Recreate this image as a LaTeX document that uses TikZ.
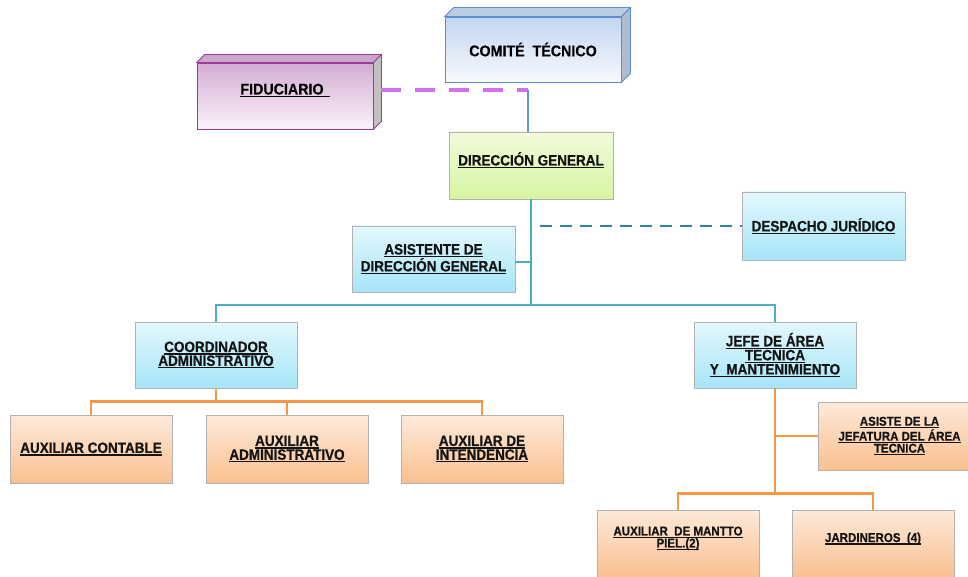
\documentclass[tikz,border=0pt]{standalone}
\usepackage{fontspec}
\setmainfont{Liberation Sans}
\newfontfamily\boxfont{Liberation Sans}[UprightFont={* Bold}, FakeStretch=0.9, FakeBold=0.6]
\newfontfamily\headfont{Liberation Sans}[UprightFont={* Bold}, FakeStretch=0.92, FakeBold=0.4]
\newcommand\myul[1]{\setbox0\hbox{#1}\rlap{\rule[-2.6pt]{\wd0}{1.2pt}}\box0}
\definecolor{cyanTop}{HTML}{E3F8FD}
\definecolor{cyanBot}{HTML}{A6E5F8}
\definecolor{orgTop}{HTML}{FDE9DA}
\definecolor{orgBot}{HTML}{FAC08F}
\definecolor{grnTop}{HTML}{F2FBDD}
\definecolor{grnBot}{HTML}{D5F5A0}
\definecolor{comTop}{HTML}{C2D6F0}
\definecolor{comBot}{HTML}{F7F9FD}
\definecolor{comLine}{HTML}{5B8BD2}
\definecolor{fidTop}{HTML}{D3ACD3}
\definecolor{fidBot}{HTML}{FAF3FA}
\definecolor{fidLine}{HTML}{9B3C9B}
\definecolor{tealLine}{HTML}{4BACC6}
\definecolor{darkTeal}{HTML}{31849B}
\definecolor{orgLine}{HTML}{F79646}
\definecolor{magLine}{HTML}{D26EF2}
\definecolor{vertBlue}{HTML}{5A96D8}
\begin{document}
\begin{tikzpicture}[x=1pt,y=-1pt,
  box/.style={draw=gray!60, line width=0.7pt, minimum width=162pt, minimum height=66pt,
    align=center, inner sep=1pt, text=black!92,
    font=\boxfont\fontsize{15}{13.8}\selectfont},
  smallbox/.style={box, font=\boxfont\fontsize{12.8}{12}\selectfont},
  bluebox/.style={top color=cyanTop, bottom color=cyanBot},
  orangebox/.style={top color=orgTop, bottom color=orgBot},
  greenbox/.style={top color=grnTop, bottom color=grnBot},
  tealconn/.style={draw=tealLine, line width=2.2pt},
  orgconn/.style={draw=orgLine, line width=2.8pt},
]
\useasboundingbox (0,0) rectangle (968,577);
\clip (0,0) rectangle (968,577);

% ---- Comite tecnico (3D box)
\node[draw=comLine, line width=0.8pt, top color=comTop, bottom color=comBot,
  minimum width=176pt, minimum height=65pt, inner sep=1pt,
  font=\headfont\fontsize{15.5}{15}\selectfont] (comite) at (533,49.5) {COMITÉ\ \ TÉCNICO};
\filldraw[draw=comLine, line width=0.8pt, fill=comTop!90!gray]
  (comite.north west) -- ++(9,-9) -- ([shift={(9,-9)}]comite.north east) -- (comite.north east) -- cycle;
\filldraw[draw=comLine, line width=0.8pt, fill=comTop!70!gray]
  (comite.north east) -- ++(9,-9) -- ([shift={(9,-9)}]comite.south east) -- (comite.south east) -- cycle;

% ---- Fiduciario (3D box)
\node[draw=fidLine, line width=0.8pt, top color=fidTop, bottom color=fidBot,
  minimum width=176pt, minimum height=66pt, inner sep=1pt, text height=11pt, text depth=14pt,
  font=\headfont\fontsize{15.5}{15}\selectfont] (fidu) at (285,96) {\myul{FIDUCIARIO\hspace{6pt}}};
\filldraw[draw=fidLine, line width=0.8pt, fill=fidTop!90!gray]
  (fidu.north west) -- ++(8,-8) -- ([shift={(8,-8)}]fidu.north east) -- (fidu.north east) -- cycle;
\filldraw[draw=fidLine, line width=0.8pt, fill=gray!45!fidBot]
  (fidu.north east) -- ++(8,-8) -- ([shift={(8,-8)}]fidu.south east) -- (fidu.south east) -- cycle;
\coordinate (fside) at ([xshift=8pt]fidu.east);

% ---- Direccion general
\node[box, greenbox, minimum width=164pt, minimum height=67pt, text height=11pt, text depth=11pt] (dg) at (531,165.5) {\myul{DIRECCIÓN GENERAL}};

% ---- second level
\node[box, bluebox, minimum width=163pt] (asis) at (433.5,259) {\myul{ASISTENTE DE}\\\myul{DIRECCIÓN GENERAL}};
\node[box, bluebox, minimum width=163pt, minimum height=68pt] (desp) at (823.5,226) {\myul{DESPACHO JURÍDICO}};

\node[box, bluebox] (coord) at (216,355) {\myul{COORDINADOR}\\\myul{ADMINISTRATIVO}};
\node[box, bluebox, font=\boxfont\fontsize{15}{13}\selectfont] (jefe) at (775,355) {\myul{JEFE DE ÁREA}\\\myul{TECNICA}\\\myul{Y\ \ MANTENIMIENTO}};

% ---- third level left
\node[box, orangebox, minimum height=68pt] (ac) at (91,449) {\myul{AUXILIAR\ CONTABLE}};
\node[box, orangebox, minimum height=68pt] (aa) at (287,449) {\myul{AUXILIAR}\\\myul{ADMINISTRATIVO}};
\node[box, orangebox, minimum height=68pt] (ai) at (482,449) {\myul{AUXILIAR\ DE}\\\myul{INTENDENCIA}};

% ---- third level right
\node[smallbox, orangebox, minimum width=163pt, minimum height=68pt] (asiste) at (899.5,436) {\myul{ASISTE DE LA}\\\myul{JEFATURA DEL ÁREA}\\\myul{TECNICA}};
\node[smallbox, orangebox, minimum height=68pt, text depth=14pt] (am) at (678,544) {\myul{AUXILIAR\ \ DE MANTTO}\\\myul{PIEL.(2)}};
\node[smallbox, orangebox, minimum height=68pt, text height=9pt, text depth=13pt] (jar) at (873,544) {\myul{JARDINEROS\ \ (4)}};

% ---- connectors
\coordinate (j) at (528,90);
\draw[draw=magLine, line width=4pt, dash pattern=on 20pt off 14pt] (j -| fside) -- (j);
\draw[draw=vertBlue, line width=2.4pt] (j) -- (j |- dg.north);

\draw[tealconn] (coord.north) -- ++(0,-17) -| (jefe.north);
\draw[tealconn] (dg.south) -- ++(0,106);
\coordinate (ae) at ([yshift=-3pt]asis.east);
\draw[tealconn] (ae) -- (ae -| dg.south);
\coordinate (dj) at (540,226);
\draw[draw=darkTeal, line width=2pt, dash pattern=on 12pt off 8pt] (dj) -- (desp.west);

\draw[orgconn] (coord.south) -- ++(0,14);
\draw[orgconn] (ac.north) -- ++(0,-13) -| (ai.north);
\draw[orgconn] (aa.north) -- ++(0,-13);

\draw[orgconn] (jefe.south) -- ++(0,106);
\draw[orgconn] (jefe.south |- asiste.west) -- (asiste.west);
\draw[orgconn] (am.north) -- ++(0,-16) -| (jar.north);
\end{tikzpicture}
\end{document}
